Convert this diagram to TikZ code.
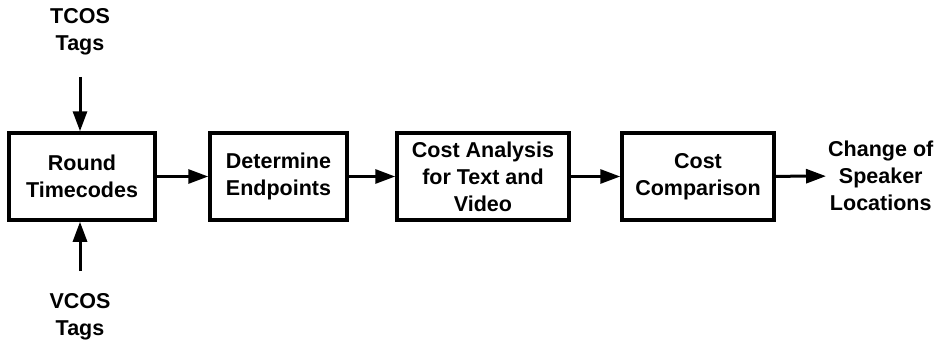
\documentclass[tikz,border=0pt]{standalone}
\usepackage{fontspec}
\setmainfont{Liberation Sans}
\usetikzlibrary{arrows.meta}

\tikzset{
  blk/.style={draw, line width=3.5pt, minimum height=87pt, align=center,
    inner sep=2pt, font=\bfseries\fontsize{21.5}{27}\selectfont},
  lbl/.style={align=center, inner sep=2pt, font=\bfseries\fontsize{21.5}{27}\selectfont},
  arr/.style={line width=3pt, -{Triangle[length=20pt,width=14pt]}}
}

\begin{document}
\begin{tikzpicture}[x=1pt,y=-1pt]
  \useasboundingbox (0,0) rectangle (938,343);
  % blocks
  \node[blk, minimum width=146pt] (round) at (82,176.5) {Round\\Timecodes};
  \node[blk, minimum width=137pt] (endp) at (278.5,176.5) {Determine\\Endpoints};
  \node[blk, minimum width=172pt] (cost) at (483,176.5) {Cost Analysis\\for Text and\\Video};
  \node[blk, minimum width=152pt] (comp) at (698,176.5) {Cost\\Comparison};
  % inputs and output
  \node[lbl] (tcos) at (80,31.5) {TCOS\\Tags};
  \node[lbl] (vcos) at (80,316.5) {VCOS\\Tags};
  \node[lbl, anchor=west] (out) at (826,176) {Change of\\Speaker\\Locations};
  % connectors
  \draw[arr, shorten <=20pt] (tcos.south) -- (tcos.south |- round.north);
  \draw[arr, shorten <=20pt] (vcos.north) -- (vcos.north |- round.south);
  \draw[arr] (round) -- (endp);
  \draw[arr] (endp) -- (cost);
  \draw[arr] (cost) -- (comp);
  \draw[arr] (comp) -- (out);
\end{tikzpicture}
\end{document}
